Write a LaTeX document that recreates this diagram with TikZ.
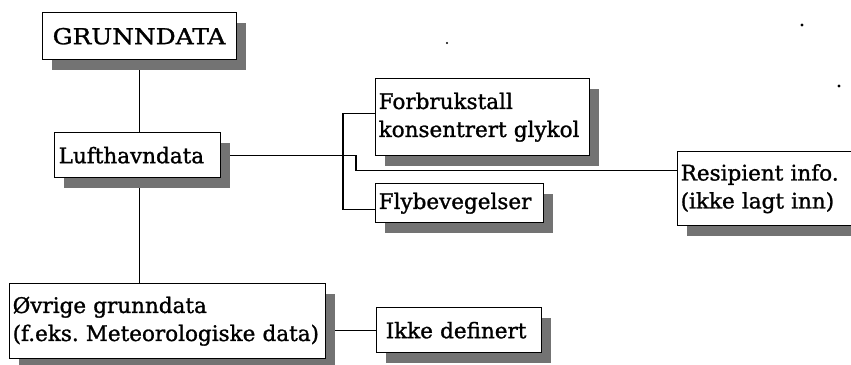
\documentclass[tikz,border=0pt]{standalone}
\usepackage{fontspec}
\setmainfont{DejaVu Serif}[FakeBold=1.2]
\usetikzlibrary{shadows,backgrounds}
\begin{document}
\frenchspacing
\begin{tikzpicture}[x=1pt,y=-1pt,
  box/.style={draw, fill=white, line width=1.4pt, anchor=north west,
    inner ysep=0pt, align=left,
    font=\fontsize{21.5}{28}\selectfont,
    general shadow={fill=black!55, shadow xshift=9pt, shadow yshift=-10pt}},
  link/.style={line width=1.2pt}]
\useasboundingbox (0,0) rectangle (851,364);
\clip (0,0) rectangle (851,364);

% boxes
\node[box, minimum width=194pt, minimum height=47pt, inner xsep=10pt,
      text width=174pt, font=\fontsize{22}{28}\selectfont]
  (grund) at (42,12) {\scalebox{1.13}[1]{GRUNNDATA}};
\node[box, minimum width=166pt, minimum height=45pt, inner xsep=4pt,
      text width=158pt] (luft) at (54,132) {Lufthavndata};
\node[box, minimum width=214pt, minimum height=77pt, inner xsep=3pt,
      text width=208pt] (forb) at (375,78) {Forbrukstall\\konsentrert glykol};
\node[box, minimum width=168pt, minimum height=39pt, inner xsep=3pt,
      text width=162pt] (fly) at (375,183) {Flybevegelser};
\node[box, minimum width=190pt, minimum height=74pt, inner xsep=3pt,
      text width=184pt] (resi) at (677,151) {Resipient info.\\(ikke lagt inn)};
\node[box, minimum width=316pt, minimum height=75pt, inner xsep=3pt,
      text width=310pt] (ovr) at (9,283) {Øvrige grunndata\\(f.eks. Meteorologiske data)};
\node[box, minimum width=165pt, minimum height=45pt, inner xsep=9pt,
      text width=147pt] (ikke) at (376,307) {Ikke definert};

% connectors
\coordinate (bend) at (356,157);
\coordinate (brk) at (343,0);
\begin{scope}[on background layer]
  \draw[link] (grund.south) -- (grund.south |- luft.north);
  \draw[link] (grund.south |- luft.south) -- (grund.south |- ovr.north);
  \draw[link] (luft.east) -- (luft.east -| bend) -- ++(0,15) coordinate (step)
    -- (step -| resi.west);
  \draw[link] ([yshift=3.5pt]forb.west) -- ([yshift=3.5pt]forb.west -| brk)
    -- ([yshift=-6pt]fly.west -| brk) -- ([yshift=-6pt]fly.west);
  \draw[link] (ikke.west) -- (ikke.west -| ovr.east);
\end{scope}

% specks
\fill (447,43) circle (1.2);
\fill (802,25) circle (1.6);
\fill (839,86) circle (1.6);
\end{tikzpicture}
\end{document}
